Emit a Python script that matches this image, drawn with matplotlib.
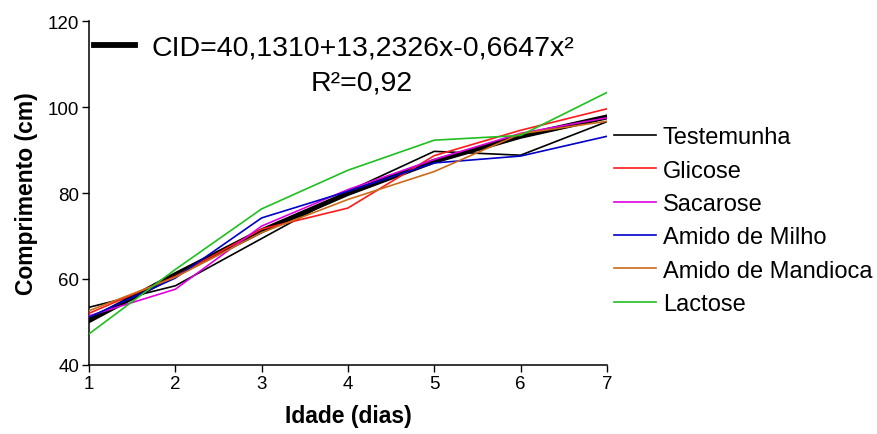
import matplotlib
matplotlib.use("Agg")
import matplotlib.pyplot as plt

plt.rcParams['font.family'] = ['Liberation Sans', 'DejaVu Sans']

# idade (dias)
dias = [1, 2, 3, 4, 5, 6, 7]

# comprimento (cm) por tratamento
testemunha = [53.4, 58.4, 69.4, 80.4, 89.7, 88.8, 96.6]
glicose = [52.0, 60.6, 71.6, 76.5, 88.7, 94.6, 99.6]
sacarose = [51.4, 57.6, 72.3, 80.8, 87.8, 93.9, 97.5]
amido_milho = [51.1, 60.2, 74.2, 80.4, 87.0, 88.6, 93.2]
amido_mandioca = [52.6, 60.4, 70.8, 78.5, 85.0, 93.8, 96.7]
lactose = [47.2, 62.2, 76.3, 85.3, 92.3, 93.4, 103.4]

# curva ajustada (CID)
cid = [50.3, 61.0, 71.2, 79.9, 87.4, 93.2, 97.7]

series = [
    ("Testemunha", testemunha, "black"),
    ("Glicose", glicose, "#ff1a1a"),
    ("Sacarose", sacarose, "#e000e0"),
    ("Amido de Milho", amido_milho, "#0000c8"),
    ("Amido de Mandioca", amido_mandioca, "#cc6a1a"),
    ("Lactose", lactose, "#1fbf1f"),
]

fig = plt.figure(figsize=(8.77, 4.35), dpi=100)
ax = fig.add_axes([0.1015, 0.159, 0.5905, 0.79])

cid_line, = ax.plot(dias, cid, color="black", lw=3.6, zorder=2)

handles = []
for nome, vals, cor in series:
    h, = ax.plot(dias, vals, color=cor, lw=1.2, label=nome, zorder=3)
    handles.append(h)

ax.set_xlim(1, 7)
ax.set_ylim(40, 120)
ax.set_xticks(dias)
ax.set_yticks([40, 60, 80, 100, 120])
ax.tick_params(direction="out", length=5, width=1, labelsize=13.5, pad=2)
ax.spines["top"].set_visible(False)
ax.spines["right"].set_visible(False)
for s in ("left", "bottom"):
    ax.spines[s].set_linewidth(1.1)

ax.set_xlabel("Idade (dias)", fontsize=16.5, fontweight="bold", labelpad=9)
ax.set_ylabel("Comprimento (cm)", fontsize=16.5, fontweight="bold", labelpad=7)

leg = ax.legend(handles=handles, loc="center left", bbox_to_anchor=(1.013, 0.42),
                frameon=False, fontsize=17, handlelength=1.8, handletextpad=0.28,
                labelspacing=0.48, borderpad=0, borderaxespad=0)
ax.add_artist(leg)

leg2 = ax.legend([cid_line], ["CID=40,1310+13,2326x-0,6647x²"],
                 loc="center left", bbox_to_anchor=(0.01, 0.922), frameon=False,
                 fontsize=20.5, handlelength=1.45, handletextpad=0.55,
                 borderpad=0, borderaxespad=0)
leg2.get_lines()[0].set_linewidth(4.2)
ax.text(0.527, 0.823, "R²=0,92", transform=ax.transAxes, fontsize=20.5,
        ha="center", va="center")

fig.savefig("out.png", dpi=100)
